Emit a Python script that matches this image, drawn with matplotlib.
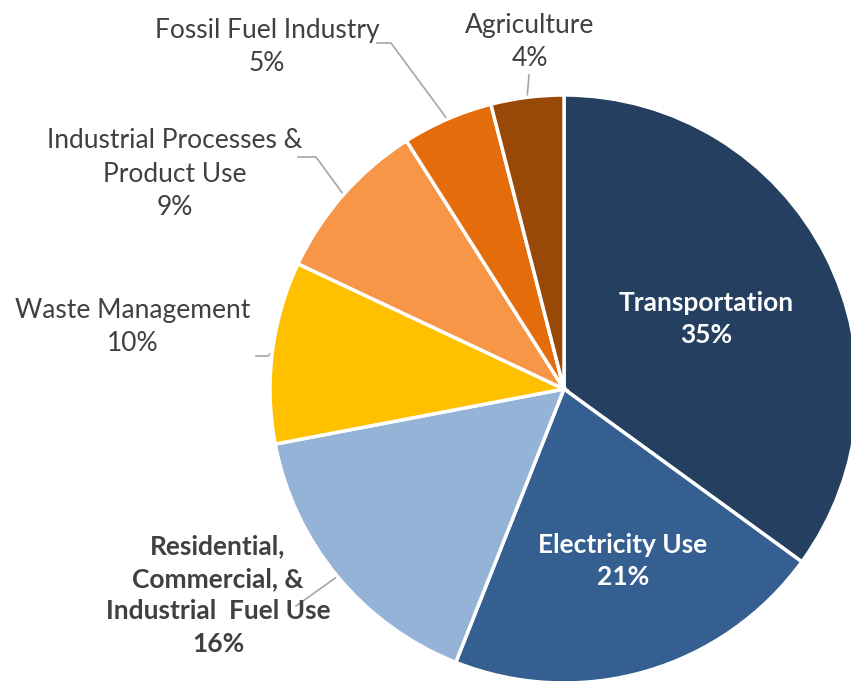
import matplotlib
matplotlib.use('Agg')
import matplotlib.pyplot as plt
import numpy as np

plt.rcParams['font.family'] = ['Lato', 'DejaVu Sans']

sectors = ['Transportation', 'Electricity Use',
           'Residential,\nCommercial, &\nIndustrial  Fuel Use',
           'Waste Management', 'Industrial Processes &\nProduct Use',
           'Fossil Fuel Industry', 'Agriculture']
shares = [35, 21, 16, 10, 9, 5, 4]
colors = ['#243F60', '#355F91', '#95B3D7', '#FFC000', '#F79646', '#E46C0A', '#984807']

W, H = 851, 681
CX, CY, R = 564, 681 - 389, 294

fig = plt.figure(figsize=(W / 100, H / 100), dpi=100)
ax = fig.add_axes([0, 0, 1, 1])
wedges, _ = ax.pie(shares, colors=colors, startangle=90, counterclock=False,
                   radius=R, center=(CX, CY),
                   wedgeprops=dict(edgecolor='white', linewidth=2.5))
ax.set_xlim(0, W)
ax.set_ylim(0, H)
ax.set_aspect('auto')
ax.axis('off')

# label placement in pixel coords (x, y from top), plus leader elbow
label_pos = [(706, 319), (623, 561), (218, 595), (133, 327),
             (175, 174), (267, 47), (530, 42)]
elbows = [None, None, [(296, 606)], [(268, 356), (256, 356)],
          [(316, 157), (298, 157)], [(391, 43), (377, 43)], [(529, 75)]]
inside = [True, True, False, False, False, False, False]
bold = [True, True, True, False, False, False, False]

for w, name, val, (lx, ly), elb, ins, b in zip(wedges, sectors, shares, label_pos,
                                               elbows, inside, bold):
    txt = f'{name}\n{val}%'
    ax.text(lx, H - ly, txt, ha='center', va='center', fontsize=19,
            fontweight='bold' if b else 'normal',
            color='white' if ins else '#404040', linespacing=1.42)
    if elb:
        mid = np.deg2rad((w.theta1 + w.theta2) / 2)
        xs = [CX + R * np.cos(mid)] + [p[0] for p in elb]
        ys = [CY + R * np.sin(mid)] + [H - p[1] for p in elb]
        ax.plot(xs, ys, color='#A6A6A6', lw=1.2, zorder=0.5)

fig.savefig('out.png', dpi=100)
